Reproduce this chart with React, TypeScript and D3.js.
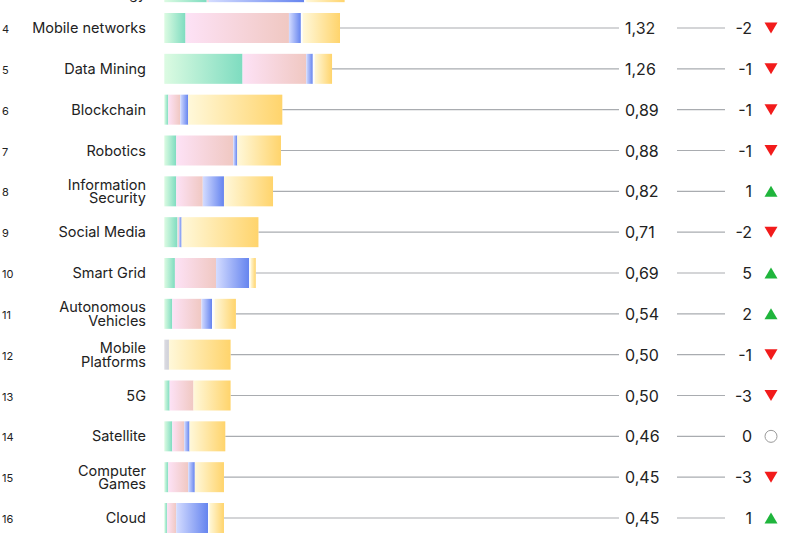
import React from "react";
import * as d3 from "d3";

const ranks = [3, 4, 5, 6, 7, 8, 9, 10, 11, 12, 13, 14, 15, 16];
const labels = [
  "Clean\nEnergy",
  "Mobile networks",
  "Data Mining",
  "Blockchain",
  "Robotics",
  "Information\nSecurity",
  "Social Media",
  "Smart Grid",
  "Autonomous\nVehicles",
  "Mobile\nPlatforms",
  "5G",
  "Satellite",
  "Computer\nGames",
  "Cloud",
];
const values = [1.36, 1.32, 1.26, 0.89, 0.88, 0.82, 0.71, 0.69, 0.54, 0.5, 0.5, 0.46, 0.45, 0.45];
const deltas = [1, -2, -1, -1, -1, 1, -2, 5, 2, -1, -3, 0, -3, 1];

const seriesKeys = ["gray", "green", "pink", "blue", "other", "yellow"];
const gray = [0, 0, 0, 0, 0, 0, 0, 0, 0, 0.035, 0, 0, 0, 0];
const green = [0.32, 0.16, 0.59, 0.03, 0.09, 0.09, 0.1, 0.08, 0.06, 0, 0.04, 0.06, 0.03, 0.02];
const pink = [0.015, 0.78, 0.48, 0.09, 0.43, 0.2, 0.01, 0.31, 0.22, 0, 0.18, 0.09, 0.15, 0.07];
const blue = [0.72, 0.09, 0.05, 0.06, 0.03, 0.16, 0.02, 0.25, 0.08, 0, 0, 0.04, 0.05, 0.24];
const other = [0.015, 0.015, 0.015, 0, 0, 0, 0, 0.01, 0.02, 0, 0, 0, 0, 0.01];
const yellow = [0.29, 0.28, 0.13, 0.71, 0.33, 0.37, 0.58, 0.04, 0.16, 0.465, 0.28, 0.27, 0.22, 0.11];

const gradStops: Record<string, [string, string]> = {
  gray: ["#dcdce2", "#cfd0d8"],
  green: ["#dcfbe2", "#7edcc0"],
  pink: ["#fde2f6", "#f0c8c2"],
  blue: ["#d4dcff", "#6584ef"],
  other: ["#ffffff", "#fdfbf2"],
  yellow: ["#fff8da", "#ffd46c"],
};

const W = 800;
const H = 533;
const FONT = "Inter, 'Noto Sans', sans-serif";

export default function App() {
  const table = ranks.map((r, i) => ({
    rank: r,
    gray: gray[i],
    green: green[i],
    pink: pink[i],
    blue: blue[i],
    other: other[i],
    yellow: yellow[i],
  }));
  const stack = d3.stack<any>().keys(seriesKeys)(table);

  const x = d3.scaleLinear().domain([0, 1]).range([164.3, 164.3 + 132.6]);
  const y = d3.scalePoint<number>().domain(ranks).range([-12.83, 518]);
  const barH = 30;

  return (
    <svg
      width={W}
      height={H}
      style={{ position: "fixed", left: 0, top: 0, background: "#fff" }}
      fontFamily={FONT}
    >
      <defs>
        {seriesKeys.map((k) => (
          <linearGradient key={k} id={`g-${k}`} x1="0" x2="1" y1="0" y2="0">
            <stop offset="0%" stopColor={gradStops[k][0]} />
            <stop offset="100%" stopColor={gradStops[k][1]} />
          </linearGradient>
        ))}
      </defs>

      {/* connector lines */}
      {ranks.map((r, i) => {
        const cy = y(r)!;
        return (
          <g key={`l${r}`} stroke="#a9acb0" strokeWidth={1.2}>
            <line x1={x(values[i])} x2={619} y1={cy} y2={cy} />
            <line x1={677} x2={725} y1={cy} y2={cy} />
          </g>
        );
      })}

      {/* bars */}
      {stack.map((s) => (
        <g key={s.key} fill={`url(#g-${s.key})`}>
          {s.map((d: any, i: number) =>
            d[1] - d[0] > 0 ? (
              <rect
                key={i}
                x={x(d[0])}
                width={x(d[1]) - x(d[0])}
                y={y(ranks[i])! - barH / 2}
                height={barH}
              />
            ) : null
          )}
        </g>
      ))}

      {/* rank numbers */}
      {ranks.map((r) => (
        <text key={`r${r}`} x={2} y={y(r)! + 5} fontSize={11} fill="#222">
          {r}
        </text>
      ))}

      {/* labels */}
      {ranks.map((r, i) => {
        const lines = labels[i].split("\n");
        const cy = y(r)!;
        return (
          <text key={`t${r}`} textAnchor="end" fontSize={14.5} fill="#222">
            {lines.length === 1 ? (
              <tspan x={146} y={cy + 5}>
                {lines[0]}
              </tspan>
            ) : (
              lines.map((ln, j) => (
                <tspan key={j} x={146} y={cy - 1.5 + j * 13.5}>
                  {ln}
                </tspan>
              ))
            )}
          </text>
        );
      })}

      {/* values */}
      {ranks.map((r, i) => (
        <text key={`v${r}`} x={625} y={y(r)! + 6} fontSize={16} fill="#222">
          {values[i].toFixed(2).replace(".", ",")}
        </text>
      ))}

      {/* deltas */}
      {ranks.map((r, i) => (
        <text key={`d${r}`} x={752} y={y(r)! + 6} fontSize={16} fill="#222" textAnchor="end">
          {deltas[i] < 0 ? `-${Math.abs(deltas[i])}` : `${deltas[i]}`}
        </text>
      ))}

      {/* icons */}
      {ranks.map((r, i) => {
        const cy = y(r)!;
        const cx = 771;
        const d = deltas[i];
        if (d === 0)
          return (
            <circle key={`i${r}`} cx={cx} cy={cy} r={6} fill="none" stroke="#9a9a9a" strokeWidth={1} />
          );
        if (d < 0)
          return (
            <path
              key={`i${r}`}
              d={`M${cx - 6.5},${cy - 5.5}L${cx + 6.5},${cy - 5.5}L${cx},${cy + 5.5}Z`}
              fill="#f21b1b"
            />
          );
        return (
          <path
            key={`i${r}`}
            d={`M${cx - 6.5},${cy + 5.5}L${cx + 6.5},${cy + 5.5}L${cx},${cy - 5.5}Z`}
            fill="#1fb53c"
          />
        );
      })}
    </svg>
  );
}
